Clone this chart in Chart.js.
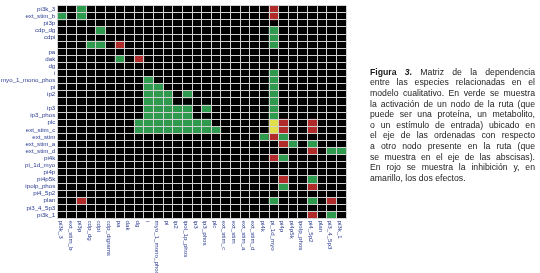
<!DOCTYPE html>
<html lang="es">
<head>
<meta charset="utf-8">
<title>Matriz de dependencia</title>
<script src="https://cdn.jsdelivr.net/npm/chart.js@4.4.1/dist/chart.umd.min.js"></script>
<style>
  html, body { margin: 0; padding: 0; background: #fff; }
  #wrap { position: relative; width: 540px; height: 273px; overflow: hidden; }
  #wrap canvas { position: absolute; left: 0; top: 0; }
  #caption {
    position: absolute; left: 370px; top: 66.8px; width: 165px;
    font-family: "Liberation Sans", Arial, sans-serif;
    font-size: 8.7px; line-height: 10.6px; color: #1b1b1b;
  }
  #caption div { text-align: justify; text-align-last: justify; }
  #caption div:last-child { text-align-last: left; }
</style>
</head>
<body>
<div id="wrap">
  <canvas id="chart" width="540" height="273"></canvas>
  <div id="caption">
    <div><b>Figura <i>3.</i></b> Matriz de la dependencia</div>
    <div>entre las especies relacionadas en el</div>
    <div>modelo cualitativo. En verde se muestra</div>
    <div>la activación de un nodo de la ruta (que</div>
    <div>puede ser una proteína, un metabolito,</div>
    <div>o un estímulo de entrada) ubicado en</div>
    <div>el eje de las ordenadas con respecto</div>
    <div>a otro nodo presente en la ruta (que</div>
    <div>se muestra en el eje de las abscisas).</div>
    <div>En rojo se muestra la inhibición y, en</div>
    <div>amarillo, los dos efectos.</div>
  </div>
</div>
<script>
// species of the model, same order on both axes
const species = [
  "pi3k_3", "ext_stim_b", "pi3p", "cdp_dg", "cdpi", "cdp_digrams", "pa", "dak",
  "dg", "i", "myo_1_mono_phos", "pi", "ip2", "ipol_1p_phos", "ip3", "ip3_phos",
  "plc", "ext_stim_c", "ext_stim", "ext_stim_a", "ext_stim_d", "pi4k", "pi_1d_myo",
  "pi4p", "pi4p5k", "ipolp_phos", "pi4_5p2", "plan", "pi3_4_5p3", "pi3k_1"
];
// rows whose name is not printed on the y axis of the figure
const hiddenRowLabels = [5, 13];

// effect of the column species on the row species
// g = activation, r = inhibition, y = both, . = none
const effects = [
  "..g.. ..... ..... ..... ..r.. .....",
  "g.g.. ..... ..... ..... ..r.. .....",
  "..... ..... ..... ..... ..... .....",
  "....g ..... ..... ..... ..g.. .....",
  "..... ..... ..... ..... ..g.. .....",
  "...gg .r... ..... ..... ..g.. .....",
  "..... ..... ..... ..... ..... .....",
  "..... .g.r. ..... ..... ..... .....",
  "..... ..... ..... ..... ..... .....",
  "..... ..... ..... ..... ..g.. .....",
  "..... ....g ..... ..... ..g.. .....",
  "..... ....g g.... ..... ..g.. .....",
  "..... ....g gg.g. ..... ..g.. .....",
  "..... ....g gg... ..... ..g.. .....",
  "..... ....g gggg. g.... ..g.. .....",
  "..... ....g gggg. ..... ..g.. .....",
  "..... ...gg ggggg g.... ..yr. .r...",
  "..... ...gg ggggg gg... ..yr. .r...",
  "..... ..... ..... ..... .grg. .....",
  "..... ..... ..... ..... ...rg .g...",
  "..... ..... ..... ..... ..... .r.gg",
  "..... ..... ..... ..... ..rg. .....",
  "..... ..... ..... ..... ..... .....",
  "..... ..... ..... ..... ..... .....",
  "..... ..... ..... ..... ...r. .g...",
  "..... ..... ..... ..... ...g. .r...",
  "..... ..... ..... ..... ..... .....",
  "..r.. ..... ..... ..... ..g.. .g.r.",
  "..... ..... ..... ..... ..... .....",
  "..... ..... ..... ..... ..... .r.g."
].map(s => s.replace(/ /g, ""));

const effectColors = { g: "#2e9a4e", r: "#b02a2a", y: "#e2e04a", ".": "rgba(0,0,0,0)" };
const gridColor = "#d2d2d2";
const labelColor = "#2a3b8f";
const labelFont = { family: "'Liberation Sans', Arial, sans-serif", size: 6.2 };

const rowLabels = species.map((s, i) => hiddenRowLabels.includes(i) ? "" : s);

// one stacked dataset per row, one unit cell per column
const datasets = species.map((name, r) => ({
  label: name,
  data: species.map(() => 1),
  backgroundColor: effects[r].split("").map(c => effectColors[c]),
  borderWidth: 0,
  barPercentage: 1,
  categoryPercentage: 1
}));

// black matrix background + column names read top to bottom
const matrixFrame = {
  id: "matrixFrame",
  beforeDraw(chart) {
    const { ctx, chartArea: a } = chart;
    ctx.save();
    ctx.fillStyle = "#000";
    ctx.fillRect(a.left, a.top, a.right - a.left, a.bottom - a.top);
    ctx.restore();
  },
  afterDraw(chart) {
    const { ctx, chartArea: a, scales: { x } } = chart;
    ctx.save();
    ctx.font = labelFont.size + "px " + labelFont.family;
    ctx.fillStyle = labelColor;
    ctx.textAlign = "left";
    ctx.textBaseline = "middle";
    species.forEach((name, i) => {
      ctx.save();
      ctx.translate(x.getPixelForValue(i) - 1.5, a.bottom + 2);
      ctx.rotate(Math.PI / 2);
      ctx.fillText(name, 0, 0);
      ctx.restore();
    });
    ctx.restore();
  }
};

new Chart(document.getElementById("chart"), {
  type: "bar",
  data: { labels: species, datasets },
  options: {
    responsive: false,
    devicePixelRatio: 1,
    animation: false,
    layout: { padding: { top: 2.5, right: 194, bottom: 54.5, left: 0 } },
    plugins: { legend: { display: false }, tooltip: { enabled: false } },
    scales: {
      x: {
        stacked: true,
        offset: true,
        ticks: { display: false },
        grid: { color: gridColor, lineWidth: 1, z: 1, offset: true, drawTicks: false },
        border: { display: false },
        afterFit: s => { s.height = 0; }
      },
      y: {
        type: "linear",
        stacked: true,
        reverse: true,
        min: 0,
        max: species.length,
        afterBuildTicks: s => { s.ticks = species.map((_, i) => ({ value: i + 0.5 })); },
        afterFit: s => { s.width = 57.3; },
        ticks: {
          autoSkip: false,
          padding: 2,
          color: labelColor,
          font: labelFont,
          callback: (v, i) => rowLabels[i]
        },
        grid: { color: gridColor, lineWidth: 1, z: 1, offset: true, drawTicks: false },
        border: { display: false }
      }
    }
  },
  plugins: [matrixFrame]
});
</script>
</body>
</html>
